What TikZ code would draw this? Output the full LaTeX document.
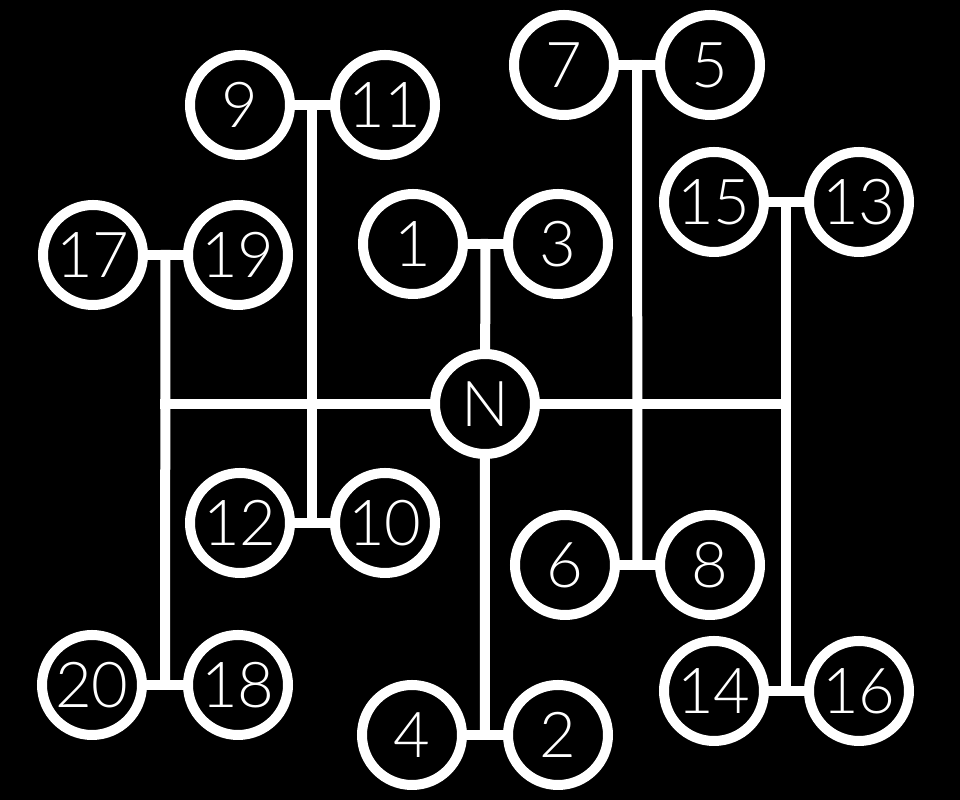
\documentclass[tikz,border=0pt]{standalone}
\usepackage{fontspec}
\setmainfont{Lato}[UprightFont=* Light]
\usetikzlibrary{positioning,calc}

\begin{document}
\begin{tikzpicture}[line width=1mm, line cap=rect,
                    main node/.style={circle,draw=white,text=white,minimum size=1cm,inner sep=0pt,
                                      font=\fontsize{18}{18}\selectfont},
                    every edge/.style={draw=white,line width=1mm}
                   ]
  \fill[black] (0,0) rectangle (9.6,-8);
  \useasboundingbox (0,0) rectangle (9.6,-8);

  \node[main node] (N) at (4.85,-4.04) {N};
  % pairs above and below the middle line
  \node[main node] (1) at (4.13,-2.44) {1};
  \node[main node] (3) at (5.58,-2.44) {3};
  \node[main node] (4) at (4.12,-7.35) {4};
  \node[main node] (2) at (5.58,-7.35) {2};
  \node[main node] (9) at (2.40,-1.05) {9};
  \node[main node] (11) at (3.85,-1.05) {11};
  \node[main node] (12) at (2.40,-5.23) {12};
  \node[main node] (10) at (3.85,-5.23) {10};
  \node[main node] (17) at (0.93,-2.55) {17};
  \node[main node] (19) at (2.38,-2.55) {19};
  \node[main node] (20) at (0.92,-6.85) {20};
  \node[main node] (18) at (2.38,-6.85) {18};
  \node[main node] (7) at (5.64,-0.65) {7};
  \node[main node] (5) at (7.10,-0.65) {5};
  \node[main node] (6) at (5.65,-5.65) {6};
  \node[main node] (8) at (7.10,-5.65) {8};
  \node[main node] (15) at (7.14,-2.02) {15};
  \node[main node] (13) at (8.59,-2.02) {13};
  \node[main node] (14) at (7.14,-6.91) {14};
  \node[main node] (16) at (8.59,-6.91) {16};

  % junctions in the middle of each pair
  \coordinate (a) at ($(1)!0.5!(3)$);
  \coordinate (b) at ($(4)!0.5!(2)$);
  \coordinate (c) at ($(9)!0.5!(11)$);
  \coordinate (d) at ($(12)!0.5!(10)$);
  \coordinate (e) at ($(17)!0.5!(19)$);
  \coordinate (f) at ($(20)!0.5!(18)$);
  \coordinate (g) at ($(7)!0.5!(5)$);
  \coordinate (h) at ($(6)!0.5!(8)$);
  \coordinate (i) at ($(15)!0.5!(13)$);
  \coordinate (j) at ($(14)!0.5!(16)$);

  \path%
    (1) edge (3)   (4) edge (2)
    (9) edge (11)  (12) edge (10)
    (17) edge (19) (20) edge (18)
    (7) edge (5)   (6) edge (8)
    (15) edge (13) (14) edge (16)
    (a) edge (N)   (N) edge (b)
    (c) edge (d)   (e) edge (f)
    (g) edge (h)   (i) edge (j)
    (N) edge (N -| e)
    (N) edge (N -| i);
\end{tikzpicture}
\end{document}
